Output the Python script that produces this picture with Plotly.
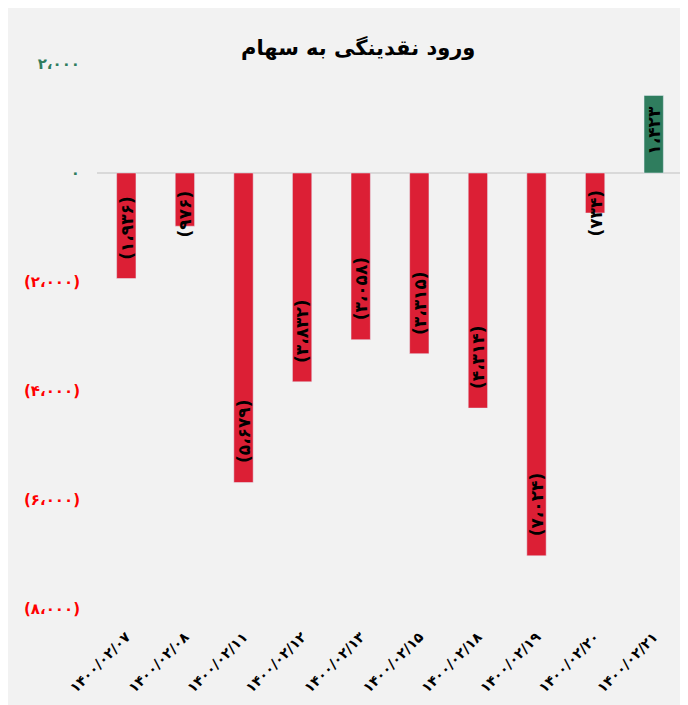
import plotly.graph_objects as go

# ---- data ----
dates = ["1400/02/07", "1400/02/08", "1400/02/11", "1400/02/12", "1400/02/13",
         "1400/02/15", "1400/02/18", "1400/02/19", "1400/02/20", "1400/02/21"]
values = [-1936, -976, -5679, -3832, -3058, -3315, -4314, -7024, -734, 1423]
y_ticks = [2000, 0, -2000, -4000, -6000, -8000]
title_text = "ورود نقدینگی به سهام"

PERSIAN = str.maketrans("0123456789", "۰۱۲۳۴۵۶۷۸۹")


def fa_num(v, parens=True):
    s = f"{abs(v):,}".replace(",", "،").translate(PERSIAN)
    if v < 0 and parens:
        s = "(" + s + ")"
    return s


GREEN = "#2F7D5E"
RED_BAR = "#DC1F35"
RED_TXT = "#FF0000"
BG = "#F2F2F2"
FONT = "DejaVu Sans"

x_labels = [d.translate(PERSIAN) for d in dates]
bar_colors = [GREEN if v >= 0 else RED_BAR for v in values]

tick_text = []
for t in y_ticks:
    col = GREEN if t >= 0 else RED_TXT
    tick_text.append(f"<span style='color:{col}'><b>{fa_num(t)}</b></span>")

fig = go.Figure()
fig.add_trace(go.Bar(
    x=x_labels, y=values, marker_color=bar_colors, width=0.33,
    hoverinfo="skip",
))

annotations = []
for xl, v in zip(x_labels, values):
    if v >= 0:
        ya, yanchor, ys = v, "top", -8
    elif abs(v) >= 1200:
        ya, yanchor, ys = v, "bottom", 17
    else:
        ya, yanchor, ys = 0, "top", -15
    annotations.append(dict(
        x=xl, y=ya, xref="x", yref="y", text="<b>" + fa_num(v) + "</b>",
        showarrow=False, textangle=-90, yanchor=yanchor, xanchor="center",
        yshift=ys, font=dict(family=FONT, size=17, color="black"),
    ))

fig.update_layout(
    width=680, height=697,
    margin=dict(l=89, r=5, t=56, b=96),
    paper_bgcolor=BG, plot_bgcolor=BG,
    showlegend=False,
    title=dict(text="<b>" + title_text + "</b>", x=0.515, xref="container",
               xanchor="center", y=0.943, yanchor="middle",
               font=dict(family=FONT, size=21, color="black")),
    annotations=annotations,
    bargap=0.67,
)
fig.update_xaxes(
    type="category", tickangle=-45, showgrid=False, showline=False,
    ticks="", ticklabelstandoff=16,
    tickfont=dict(family=FONT, size=14, color="black", weight="bold"),
)
fig.update_yaxes(
    range=[-8000, 2000], tickvals=y_ticks, ticktext=tick_text,
    showgrid=False, zeroline=True, zerolinecolor="#D9D9D9", zerolinewidth=2,
    showline=False, ticks="", ticklabelstandoff=16,
    tickfont=dict(family=FONT, size=15),
)

fig.write_html("out.html")
